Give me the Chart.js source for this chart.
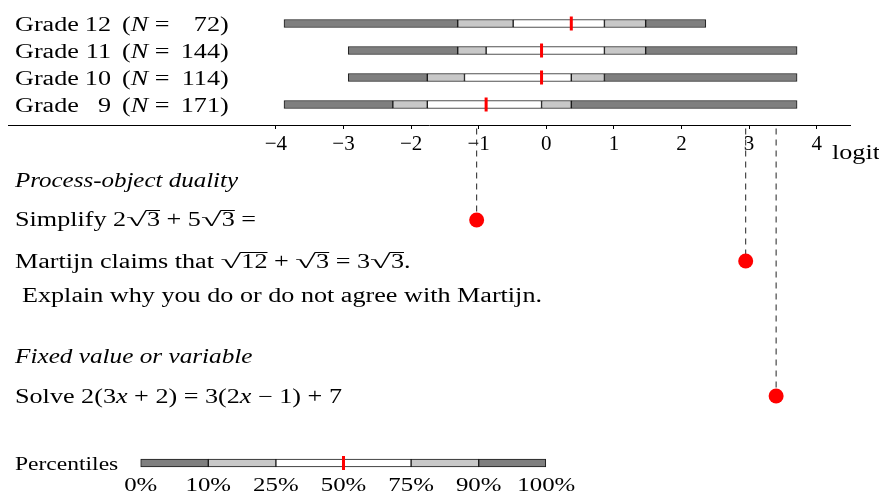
<!DOCTYPE html>
<html>
<head>
<meta charset="utf-8">
<script src="https://cdn.jsdelivr.net/npm/chart.js@4.4.0/dist/chart.umd.min.js"></script>
<style>
  html, body { margin: 0; padding: 0; background: #fff; }
  #wrap { width: 879px; height: 493px; }
</style>
</head>
<body>
<div id="wrap"><canvas id="chart" width="879" height="493"></canvas></div>
<script>
// percentile cut points of the person logits, per grade
const percentiles = [0, 10, 25, 50, 75, 90, 100];
const gradeNames = ['12', '11', '10', '9'];
const gradeN = [72, 144, 114, 171];
const grade12 = [-3.88, -1.31, -0.49, 0.37, 0.86, 1.47, 2.36];
const grade11 = [-2.93, -1.31, -0.89, -0.07, 0.86, 1.47, 3.71];
const grade10 = [-2.93, -1.76, -1.21, -0.07, 0.37, 0.86, 3.71];
const grade9 = [-3.88, -2.27, -1.76, -0.89, -0.07, 0.37, 3.71];
const gradeData = [grade12, grade11, grade10, grade9];

// item difficulties (logit)
const itemDifficulty = [-1.03, 2.95, 3.40];

// key bar, drawn on the logit scale with one unit per step
const legendStops = [-6, -5, -4, -3, -2, -1, 0];

const logitTicks = [-4, -3, -2, -1, 0, 1, 2, 3, 4];

// layout (pixels)
const rowY = [23.5, 50.5, 77.5, 104.5];
const axisY = 125.5;
const itemY = [220, 261, 396];
const legendY = 463;
const FONT = '"Liberation Serif", "DejaVu Serif", serif';

const segColors = ['#7f7f7f', '#c8c8c8', '#ffffff', '#ffffff', '#c8c8c8', '#7f7f7f'];
const rows = gradeData.concat([legendStops]);
const rowPos = rowY.concat([legendY]);

const datasets = [];
for (let s = 0; s < 6; s++) {
  datasets.push({
    type: 'bar',
    indexAxis: 'y',
    order: 10,
    data: rows.map((r, i) => ({ x: [r[s], r[s + 1]], y: rowPos[i] })),
    backgroundColor: segColors[s],
    borderColor: '#1a1a1a',
    borderWidth: 1,
    borderSkipped: false,
    barThickness: 8,
    grouped: false
  });
}
// medians
datasets.push({
  type: 'scatter',
  order: 1,
  data: rows.map((r, i) => ({ x: r[3], y: rowPos[i] })),
  pointStyle: 'line',
  rotation: 90,
  radius: 7,
  borderWidth: 3,
  borderColor: '#ff0000'
});
// dashed drop lines to the items
itemDifficulty.forEach((d, i) => {
  datasets.push({
    type: 'line',
    order: 2,
    data: [{ x: d, y: axisY + 3 }, { x: d, y: itemY[i] }],
    borderColor: '#222',
    borderWidth: 1,
    borderDash: [6, 5],
    pointRadius: 0
  });
});
// item dots
datasets.push({
  type: 'scatter',
  order: 0,
  data: itemDifficulty.map((d, i) => ({ x: d, y: itemY[i] })),
  pointStyle: 'circle',
  radius: 7.5,
  backgroundColor: '#ff0000',
  borderWidth: 0
});

// text stretch so the Times-like font gets the width of the original serif
let K = 1;
const SQRT_W = 1.45;

function runWidth(ctx, parts, size) {
  let w = 0;
  parts.forEach(([t, st]) => {
    ctx.font = (st === 'i' ? 'italic ' : '') + size + 'px ' + FONT;
    if (st === 's') w += ctx.measureText('\u221A').width * SQRT_W;
    w += ctx.measureText(t).width;
  });
  return w * K;
}

function drawRun(ctx, x, y, parts, size, kMul) {
  ctx.save();
  ctx.translate(x, y);
  ctx.scale(K * (kMul || 1), 1);
  ctx.fillStyle = '#000';
  ctx.textBaseline = 'alphabetic';
  ctx.textAlign = 'left';
  let px = 0;
  parts.forEach(([t, st]) => {
    ctx.font = (st === 'i' ? 'italic ' : '') + size + 'px ' + FONT;
    if (st === 's') {
      const m = ctx.measureText('\u221A');
      ctx.save();
      ctx.translate(px, 0);
      ctx.scale(SQRT_W, 1);
      ctx.fillText('\u221A', 0, 0);
      ctx.restore();
      const top = -Math.round(m.actualBoundingBoxAscent);
      px += m.width * SQRT_W;
      const tw = ctx.measureText(t).width;
      ctx.fillText(t, px, 0);
      ctx.fillRect(px - 0.8, top, tw + 0.8, 1);
      px += tw;
    } else {
      ctx.fillText(t, px, 0);
      px += ctx.measureText(t).width;
    }
  });
  ctx.restore();
}

const textPlugin = {
  id: 'texts',
  afterDraw(chart) {
    const ctx = chart.ctx;
    ctx.save();
    ctx.font = '20px ' + FONT;
    K = 520 / ctx.measureText('Explain why you do or do not agree with Martijn.').width;

    // grade labels
    gradeNames.forEach((g, i) => {
      const base = rowY[i] + 7;
      drawRun(ctx, 15, base, [['Grade', 'r']], 20);
      const gw = runWidth(ctx, [[g, 'r']], 20);
      drawRun(ctx, 111 - gw, base, [[g, 'r']], 20);
      drawRun(ctx, 122, base, [['(', 'r'], ['N', 'i'], [' =', 'r']], 20);
      const nw = runWidth(ctx, [[String(gradeN[i]), 'r']], 20);
      drawRun(ctx, 220 - nw, base, [[String(gradeN[i]), 'r']], 20);
      drawRun(ctx, 220, base, [[')', 'r']], 20);
    });

    drawRun(ctx, 832, 159, [['logit', 'r']], 20);

    drawRun(ctx, 15, 187, [['Process-object duality', 'i']], 20, 0.955);
    drawRun(ctx, 15, 226, [['Simplify 2', 'r'], ['3', 's'], [' + 5', 'r'], ['3', 's'], [' =', 'r']], 20);
    drawRun(ctx, 15, 268, [['Martijn claims that ', 'r'], ['12', 's'], [' + ', 'r'], ['3', 's'],
      [' = 3', 'r'], ['3', 's'], ['.', 'r']], 20);
    drawRun(ctx, 22, 302, [['Explain why you do or do not agree with Martijn.', 'r']], 20);

    drawRun(ctx, 15, 363, [['Fixed value or variable', 'i']], 20, 0.965);
    drawRun(ctx, 15, 403, [['Solve 2(3', 'r'], ['x', 'i'], [' + 2) = 3(2', 'r'], ['x', 'i'],
      [' \u2212 1) + 7', 'r']], 20);

    drawRun(ctx, 15, 470, [['Percentiles', 'r']], 18);
    const xs = chart.scales.x;
    percentiles.forEach((p, i) => {
      const label = p + '%';
      const w = runWidth(ctx, [[label, 'r']], 19);
      drawRun(ctx, xs.getPixelForValue(legendStops[i]) - w / 2, 491, [[label, 'r']], 19);
    });
    ctx.restore();
  }
};

new Chart(document.getElementById('chart'), {
  type: 'bar',
  data: { datasets },
  plugins: [textPlugin],
  options: {
    responsive: false,
    animation: false,
    devicePixelRatio: 1,
    layout: { padding: { left: 8, right: 29, top: 0, bottom: 0 }, autoPadding: false },
    plugins: { legend: { display: false }, tooltip: { enabled: false } },
    scales: {
      x: {
        type: 'linear',
        min: -7.963,
        max: 4.493,
        offset: false,
        position: { y: axisY },
        afterBuildTicks: (axis) => { axis.ticks = logitTicks.map(v => ({ value: v })); },
        afterFit: (axis) => {
          axis.paddingLeft = axis.paddingRight = axis.paddingTop = axis.paddingBottom = 0;
        },
        ticks: {
          autoSkip: false,
          maxRotation: 0,
          color: '#000',
          padding: 3,
          font: { family: FONT, size: 21 },
          callback: (v) => (v < 0 ? '\u2212' + Math.abs(v) : String(v))
        },
        grid: { drawOnChartArea: false, drawTicks: true, tickLength: 3, offset: false, color: '#000' },
        border: { color: '#000', width: 1 }
      },
      y: {
        type: 'linear',
        min: 0,
        max: 493,
        reverse: true,
        offset: false,
        grid: { offset: false },
        display: false
      }
    }
  }
});
</script>
</body>
</html>
